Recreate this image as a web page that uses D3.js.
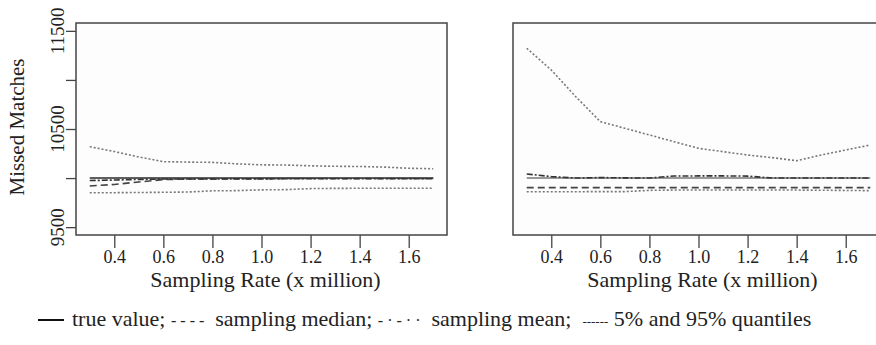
<!DOCTYPE html>
<html>
<head>
<meta charset="utf-8">
<script src="https://cdn.jsdelivr.net/npm/d3@7"></script>
<style>
  body { margin: 0; background: #fff; }
  svg { font-family: "Liberation Serif", "Times New Roman", serif; }
</style>
</head>
<body>
<svg id="chart" width="876" height="345"></svg>
<script>
// sampling rate (x million)
var rates = [0.3, 0.4, 0.5, 0.6, 0.7, 0.8, 0.9, 1.0, 1.1, 1.2, 1.3, 1.4, 1.5, 1.6, 1.7]
var xTicks = [0.4, 0.6, 0.8, 1.0, 1.2, 1.4, 1.6]
var yTicks = [9500, 10000, 10500, 11000, 11500]
var yLabels = [9500, 10500, 11500]

// left panel
var trueLeft   = [10000, 10000, 10000, 10000, 10000, 10000, 10000, 10000, 10000, 10000, 10000, 10000, 10000, 10000, 10000]
var medianLeft = [9920, 9935, 9960, 9985, 9990, 9992, 9993, 9994, 9995, 9995, 9995, 9995, 9995, 9995, 9995]
var meanLeft   = [9975, 9980, 9986, 9990, 9990, 9991, 9992, 9992, 9993, 9993, 9993, 9993, 9993, 9993, 9993]
var upperLeft  = [10320, 10270, 10215, 10167, 10163, 10160, 10145, 10135, 10133, 10125, 10120, 10118, 10112, 10100, 10095]
var lowerLeft  = [9851, 9851, 9853, 9855, 9858, 9870, 9872, 9880, 9882, 9893, 9895, 9896, 9896, 9897, 9897]

// right panel
var trueRight   = [10000, 10000, 10000, 10000, 10000, 10000, 10000, 10000, 10000, 10000, 10000, 10000, 10000, 10000, 10000]
var medianRight = [9903, 9903, 9903, 9903, 9903, 9903, 9903, 9903, 9903, 9903, 9903, 9903, 9903, 9903, 9903]
var meanRight   = [10042, 10015, 10000, 10005, 10002, 10000, 10021, 10022, 10022, 10020, 10000, 10000, 10000, 10000, 10000]
var upperRight  = [11323, 11101, 10829, 10575, 10507, 10439, 10371, 10303, 10269, 10235, 10208, 10177, 10235, 10286, 10337]
var lowerRight  = [9860, 9860, 9861, 9862, 9862, 9875, 9878, 9878, 9878, 9878, 9878, 9878, 9876, 9874, 9872]

var svg = d3.select("#chart")
var panel = {top: 23, height: 212, width: 371}

var yScale = d3.scaleLinear()
    .domain([9420, 11580])
    .range([panel.top + panel.height, panel.top])

var styles = {
    truth:  {color: "#2a2a2a", width: 1.6, dash: null},
    median: {color: "#444", width: 1.6, dash: "7,4"},
    mean:   {color: "#333", width: 1.6, dash: "6,2,2,2"},
    quant:  {color: "#777", width: 1.6, dash: "2,2"}
}

var drawPanel = function(left, series, showY) {
    var xScale = d3.scaleLinear()
        .domain([0.244, 1.756])
        .range([left, left + panel.width])

    var g = svg.append("g")

    g.append("rect")
        .attr("x", left)
        .attr("y", panel.top)
        .attr("width", panel.width)
        .attr("height", panel.height)
        .attr("fill", "#fdfdfd")
        .attr("stroke", "#444")
        .attr("stroke-width", 1.5)

    var line = d3.line()
        .x((d, i) => xScale(rates[i]))
        .y(d => yScale(d))

    series.forEach(function(s) {
        var st = styles[s.kind]
        g.append("path")
            .datum(s.values)
            .attr("fill", "none")
            .attr("stroke", s.color || st.color)
            .attr("stroke-width", st.width)
            .attr("stroke-dasharray", st.dash)
            .attr("d", line)
    })

    var xAxis = d3.axisBottom(xScale)
        .tickValues(xTicks)
        .tickFormat(d3.format(".1f"))
        .tickSize(13)
        .tickPadding(2)

    var ax = g.append("g")
        .attr("transform", "translate(0," + (panel.top + panel.height) + ")")
        .call(xAxis)
    ax.select(".domain").remove()
    ax.selectAll("line").attr("stroke", "#444").attr("stroke-width", 1.3)
    ax.selectAll("text")
        .attr("font-family", "Liberation Serif")
        .attr("font-size", 18)
        .attr("fill", "#222")

    g.append("text")
        .attr("x", left + panel.width / 2 + 4)
        .attr("y", 287)
        .attr("text-anchor", "middle")
        .attr("font-size", 22)
        .attr("fill", "#222")
        .text("Sampling Rate (x million)")

    if (showY) {
        var yAxis = d3.axisLeft(yScale)
            .tickValues(yTicks)
            .tickFormat("")
            .tickSize(10)
        var ay = g.append("g")
            .attr("transform", "translate(" + left + ",0)")
            .call(yAxis)
        ay.select(".domain").remove()
        ay.selectAll("line").attr("stroke", "#444").attr("stroke-width", 1.3)

        g.selectAll(".ylab")
            .data(yLabels)
            .enter()
            .append("text")
              .attr("class", "ylab")
              .attr("transform", d => "translate(64," + yScale(d) + ") rotate(-90)")
              .attr("text-anchor", "middle")
              .attr("font-size", 19)
              .attr("fill", "#222")
              .text(d => d)

        g.append("text")
            .attr("transform", "translate(24,127) rotate(-90)")
            .attr("text-anchor", "middle")
            .attr("font-size", 21)
            .attr("fill", "#222")
            .text("Missed Matches")
    }
}

drawPanel(76, [
    {kind: "quant", values: upperLeft},
    {kind: "quant", values: lowerLeft},
    {kind: "truth", values: trueLeft},
    {kind: "median", values: medianLeft},
    {kind: "mean", values: meanLeft}
], true)

drawPanel(513, [
    {kind: "quant", values: upperRight},
    {kind: "quant", values: lowerRight},
    {kind: "truth", values: trueRight, color: "#777"},
    {kind: "median", values: medianRight},
    {kind: "mean", values: meanRight}
], false)

// legend
var legend = svg.append("g").attr("font-size", 22).attr("fill", "#222")
legend.append("line")
    .attr("x1", 38).attr("x2", 64)
    .attr("y1", 320).attr("y2", 320)
    .attr("stroke", "#111").attr("stroke-width", 2)

var legendText = legend.append("text")
    .attr("x", 72)
    .attr("y", 326)
    .attr("xml:space", "preserve")
legendText.append("tspan").text("true value; ")
legendText.append("tspan").attr("font-size", 16).text("- - - -")
legendText.append("tspan").text("  sampling median; ")
legendText.append("tspan").attr("font-size", 16).text("- · - · ·")
legendText.append("tspan").text("  sampling mean;  ")
legendText.append("tspan").attr("font-size", 13).text("------")
legendText.append("tspan").text(" 5% and 95% quantiles")
</script>
</body>
</html>
